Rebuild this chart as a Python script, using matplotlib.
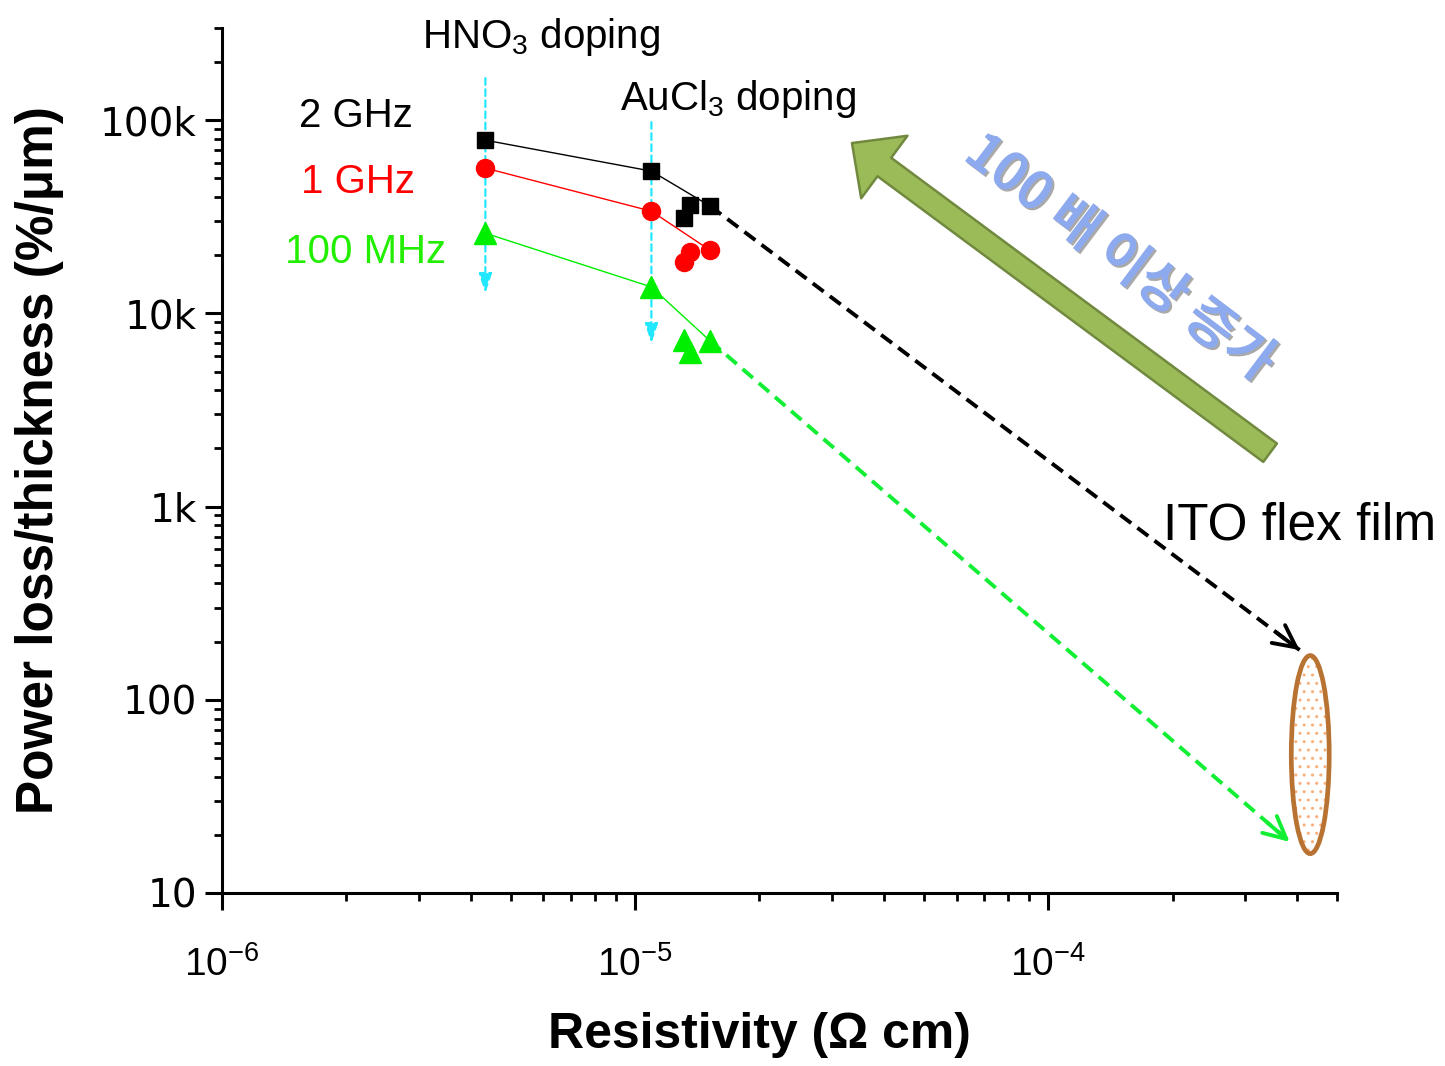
import matplotlib
matplotlib.use("Agg")
import matplotlib.pyplot as plt
import matplotlib.patheffects as pe
from matplotlib.patches import Ellipse

plt.rcParams['font.family'] = ['Liberation Sans', 'DejaVu Sans']
plt.rcParams['mathtext.fontset'] = 'custom'
plt.rcParams['mathtext.rm'] = 'Liberation Sans'
plt.rcParams['mathtext.it'] = 'Liberation Sans:italic'
plt.rcParams['mathtext.bf'] = 'Liberation Sans:bold'

# ---------------- data ----------------
resistivity = [4.34e-6, 1.095e-5, 1.31e-5, 1.36e-5, 1.52e-5]      # Ohm cm
loss_2ghz = [78800, 54500, 31100, 36300, 35900]                   # %/um
loss_1ghz = [56500, 33800, 18400, 20700, 21200]
loss_100mhz = [26000, 13700, 7270, 6300, 7190]
line_idx = [0, 1, 4]          # points joined by the thin line

# ITO flex film target region (dashed arrow end points)
ito_x_2ghz, ito_y_2ghz = 4.06e-4, 181
ito_x_100mhz, ito_y_100mhz = 3.84e-4, 18.4

# doping markers (vertical cyan arrows)
dope_x = [resistivity[0], resistivity[1]]
dope_top = [165000, 97700]
dope_bottom = [12700, 7000]

x_ticks = [1e-6, 1e-5, 1e-4]
x_tick_labels = ['$10^{-6}$', '$10^{-5}$', '$10^{-4}$']
y_ticks = [10, 100, 1000, 10000, 100000]
y_tick_labels = ['10', '100', '1k', '10k', '100k']

# ---------------- figure ----------------
fig = plt.figure(figsize=(14.45, 10.66), dpi=100)
ax = fig.add_axes([222/1445, 1-893/1066, (1337-222)/1445, (893-28)/1066])
ax.set_xscale('log')
ax.set_yscale('log')
ax.set_xlim(1e-6, 5e-4)
ax.set_ylim(10, 3e5)

for s in ['top', 'right']:
    ax.spines[s].set_visible(False)
for s in ['left', 'bottom']:
    ax.spines[s].set_linewidth(2.2)

ax.set_xticks(x_ticks)
ax.set_xticklabels(x_tick_labels, fontsize=28)
ax.set_yticks(y_ticks)
ax.set_yticklabels(y_tick_labels, fontsize=28, family='DejaVu Sans')
ax.tick_params(which='major', direction='out', length=12, width=2.2)
ax.tick_params(which='minor', direction='out', length=6, width=2.0)
ax.tick_params(axis='x', which='major', pad=26)
ax.tick_params(axis='y', which='major', pad=6)

ax.set_xlabel('Resistivity (\u03a9 cm)', fontsize=36, fontweight='bold')
ax.xaxis.set_label_coords((759-222)/1115, -(1012-893)/865)
ax.set_ylabel('Power loss/thickness (%/\u03bcm)', fontsize=37, fontweight='bold')
ax.yaxis.set_label_coords(-(222-64)/1115, 0.5)

# cyan doping arrows
for x, yt, yb in zip(dope_x, dope_top, dope_bottom):
    ax.annotate('', xy=(x, yb), xytext=(x, yt),
                arrowprops=dict(arrowstyle='-|>,head_length=0.6,head_width=0.2',
                                mutation_scale=20, color='#22e8ff', lw=1.6,
                                linestyle=(0, (3, 2)), shrinkA=0, shrinkB=0),
                zorder=1)

series = [(loss_2ghz, 'black', 's', 12), (loss_1ghz, 'red', 'o', 13),
          (loss_100mhz, '#00ee00', '^', 15.5)]
for ys, c, m, ms in series:
    ax.plot([resistivity[i] for i in line_idx], [ys[i] for i in line_idx],
            color=c, lw=1.0, zorder=2)
    ax.plot(resistivity, ys, linestyle='none', marker=m, ms=ms, color=c,
            mec=c, zorder=3)

# dashed arrows to ITO
for ys, xe, ye, c in [(loss_2ghz, ito_x_2ghz, ito_y_2ghz, 'black'),
                      (loss_100mhz, ito_x_100mhz, ito_y_100mhz, '#11ee33')]:
    xs, y0 = resistivity[-1], ys[-1]
    ax.plot([xs, xe], [y0, ye], color=c, lw=2.8, dashes=(3.5, 2.0), zorder=2)
    xn = xs * (xe / xs) ** 0.96
    yn = y0 * (ye / y0) ** 0.96
    ax.annotate('', xy=(xe, ye), xytext=(xn, yn),
                arrowprops=dict(arrowstyle='->,head_length=0.8,head_width=0.4',
                                mutation_scale=20, color=c, lw=2.8,
                                shrinkA=0, shrinkB=0))

# ITO ellipse
ell_fill = Ellipse((0.976, 0.160), 0.034, 0.229, transform=ax.transAxes,
                   facecolor='white', edgecolor='#f8b07a', hatch='..', lw=0,
                   clip_on=False, zorder=4)
ell_edge = Ellipse((0.976, 0.160), 0.034, 0.229, transform=ax.transAxes,
                   facecolor='none', edgecolor='#b87333', lw=3.4,
                   clip_on=False, zorder=5)
ax.add_patch(ell_fill)
ax.add_patch(ell_edge)

# big green arrow
ax.annotate('', xy=(0.565, 0.867), xycoords='axes fraction',
            xytext=(0.940, 0.509), textcoords='axes fraction',
            arrowprops=dict(arrowstyle='simple,head_length=29,head_width=56,tail_width=16.5',
                            mutation_scale=1, fc='#9bbb59', ec='#71893f', lw=1.8,
                            shrinkA=0, shrinkB=0), annotation_clip=False)

ax.text(0.805, 0.734, '100 배 이상 증가', transform=ax.transAxes,
        family=['Noto Sans CJK KR', 'DejaVu Sans'], fontweight='bold',
        fontsize=38, color='#8eaaee', rotation=-37, rotation_mode='anchor',
        ha='center', va='center',
        path_effects=[pe.withSimplePatchShadow(offset=(1.5, -1.5), shadow_rgbFace='#555555', alpha=0.5)])

# text annotations
ax.text(0.286, 0.977, 'HNO$_3$ doping', transform=ax.transAxes, fontsize=29,
        ha='center', va='baseline', clip_on=False)
ax.text(0.463, 0.905, 'AuCl$_3$ doping', transform=ax.transAxes, fontsize=29,
        ha='center', va='baseline')
ax.text(0.120, 0.886, '2 GHz', transform=ax.transAxes, fontsize=29,
        ha='center', va='baseline', color='black')
ax.text(0.122, 0.809, '1 GHz', transform=ax.transAxes, fontsize=29,
        ha='center', va='baseline', color='red')
ax.text(0.129, 0.728, '100 MHz', transform=ax.transAxes, fontsize=29,
        ha='center', va='baseline', color='#22ee00')
ax.text(0.966, 0.409, 'ITO flex film', transform=ax.transAxes, fontsize=37,
        ha='center', va='baseline', clip_on=False)

fig.savefig('out.png', dpi=100)
